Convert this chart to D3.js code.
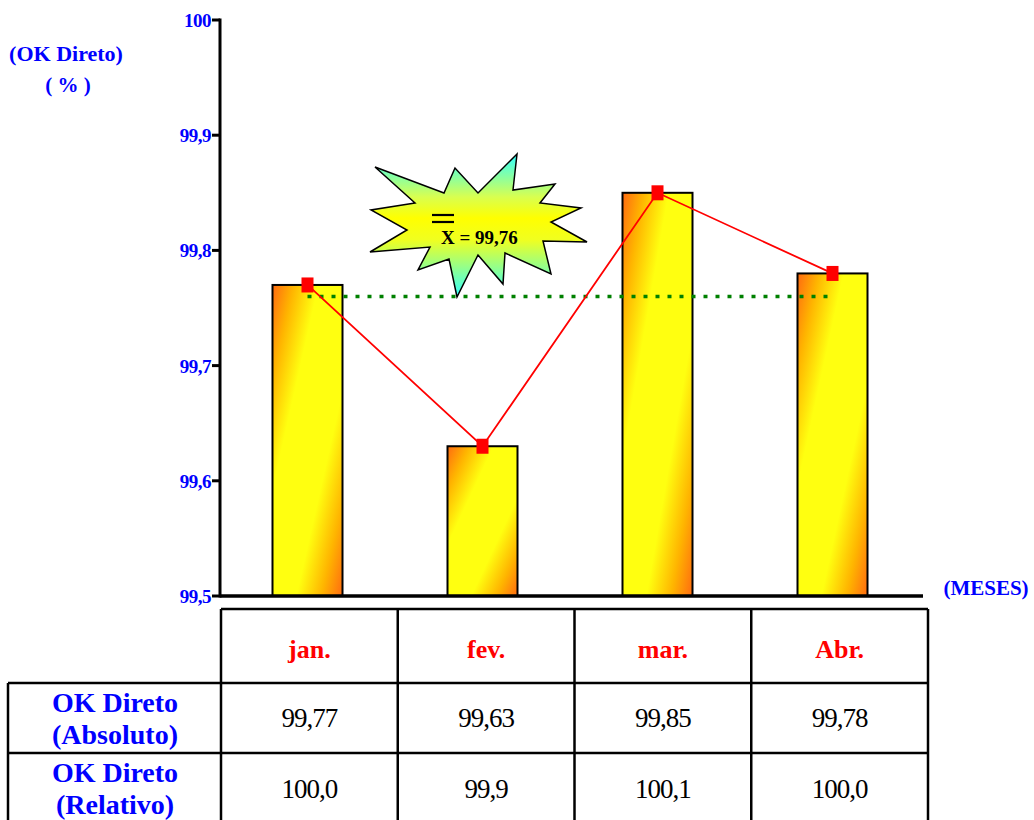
<!DOCTYPE html>
<html>
<head>
<meta charset="utf-8">
<script src="https://cdn.jsdelivr.net/npm/d3@7"></script>
<style>
  html, body { margin: 0; padding: 0; background: #fff; }
  svg { display: block; }
</style>
</head>
<body>
<svg id="chart" width="1034" height="820" font-family="'Liberation Serif', 'DejaVu Serif', serif"></svg>
<script>
// Monthly "OK Direto" indicator
const months = ["jan.", "fev.", "mar.", "Abr."];
const okAbsoluto = [99.77, 99.63, 99.85, 99.78];
const okRelativo = [100.0, 99.9, 100.1, 100.0];
const meanValue = 99.76;
const yTicks = [99.5, 99.6, 99.7, 99.8, 99.9, 100];
const yTickLabels = ["99,5", "99,6", "99,7", "99,8", "99,9", "100"];
const rowTitles = [["OK Direto", "(Absoluto)"], ["OK Direto", "(Relativo)"]];

const svg = d3.select("#chart");
const blue = "#0000ff";
const serif = "Liberation Serif";

const x = d3.scaleBand().domain(months).range([220, 920]).paddingInner(0.6).paddingOuter(0.3);
const y = d3.scaleLinear().domain([99.5, 100]).range([596, 20]);

// bar gradient: orange corners, yellow across the diagonal
const defs = svg.append("defs");
const bg = defs.append("linearGradient").attr("id", "barFill")
  .attr("x1", 0).attr("y1", 0).attr("x2", 1).attr("y2", 1);
[[0, "#ff6a10"], [0.15, "#ffb400"], [0.33, "#ffff10"], [0.67, "#ffff10"], [0.85, "#ffb400"], [1, "#ff6a10"]]
  .forEach(([o, c]) => bg.append("stop").attr("offset", o).attr("stop-color", c));

const sg = defs.append("linearGradient").attr("id", "burstFill")
  .attr("x1", 0).attr("y1", 0).attr("x2", 0).attr("y2", 1);
[[0, "#30ffff"], [0.3, "#d8ff50"], [0.45, "#ffff00"], [0.6, "#f0ff20"], [1, "#30ffff"]]
  .forEach(([o, c]) => sg.append("stop").attr("offset", o).attr("stop-color", c));

// bars
svg.append("g").selectAll("rect").data(okAbsoluto).join("rect")
  .attr("x", (d, i) => x(months[i]))
  .attr("y", d => y(d))
  .attr("width", x.bandwidth())
  .attr("height", d => y(99.5) - y(d))
  .attr("fill", "url(#barFill)")
  .attr("stroke", "#000").attr("stroke-width", 2);

// average line
const cx = m => x(m) + x.bandwidth() / 2;
svg.append("line")
  .attr("x1", cx(months[0])).attr("x2", cx(months[3]) - 4)
  .attr("y1", y(meanValue)).attr("y2", y(meanValue))
  .attr("stroke", "#008000").attr("stroke-width", 3.5)
  .attr("stroke-dasharray", "4,8");

// value line with square markers
svg.append("path").datum(okAbsoluto)
  .attr("d", d3.line().x((d, i) => cx(months[i])).y(d => y(d)))
  .attr("fill", "none").attr("stroke", "#ff0000").attr("stroke-width", 1.8);
svg.append("g").selectAll("rect").data(okAbsoluto).join("rect")
  .attr("x", (d, i) => cx(months[i]) - 6)
  .attr("y", d => y(d) - 7.5)
  .attr("width", 12).attr("height", 15)
  .attr("fill", "#ff0000");

// axes
svg.append("line").attr("x1", 220).attr("x2", 220).attr("y1", y(100) - 1.5).attr("y2", y(99.5) + 1.5)
  .attr("stroke", "#000").attr("stroke-width", 3);
svg.append("line").attr("x1", 220).attr("x2", 923).attr("y1", y(99.5)).attr("y2", y(99.5))
  .attr("stroke", "#000").attr("stroke-width", 3.5);
const tk = svg.append("g").selectAll("g").data(yTicks).join("g")
  .attr("transform", d => `translate(0,${y(d)})`);
tk.append("line").attr("x1", 212).attr("x2", 220).attr("stroke", "#000").attr("stroke-width", 3);
tk.append("text").text((d, i) => yTickLabels[i])
  .attr("x", 211).attr("y", 7).attr("text-anchor", "end").attr("font-family", serif)
  .attr("font-size", 19).attr("font-weight", "bold").attr("fill", blue)
  .attr("letter-spacing", -0.5);

// axis titles
const titleStyle = s => s.attr("font-family", serif).attr("font-weight", "bold").attr("fill", blue).attr("text-anchor", "middle");
svg.append("text").text("(OK Direto)").attr("x", 66).attr("y", 61).attr("font-size", 22).call(titleStyle);
svg.append("text").text("( % )").attr("x", 68).attr("y", 92).attr("font-size", 21).call(titleStyle);
svg.append("text").text("(MESES)").attr("x", 986).attr("y", 595).attr("font-size", 21).call(titleStyle);

// starburst callout for the average
const burst = [[375,167],[444,193],[455,168],[478,193],[517,154],[513,190],[555,184],[540,203],
  [581,208],[551,222],[587,242],[543,241],[551,274],[505,253],[503,284],[478,255],[457,297],
  [449,259],[418,270],[430,247],[370,252],[407,230],[371,210],[415,203]];
svg.append("polygon").attr("points", burst.map(p => p.join(",")).join(" "))
  .attr("fill", "url(#burstFill)").attr("stroke", "#000").attr("stroke-width", 1.5)
  .attr("stroke-linejoin", "miter");
// double bar of the mean symbol over the X
[215, 222].forEach(yy => svg.append("line")
  .attr("x1", 432).attr("x2", 454).attr("y1", yy).attr("y2", yy)
  .attr("stroke", "#000").attr("stroke-width", 2.2));
svg.append("text").text("X = " + d3.format(".2f")(meanValue).replace(".", ","))
  .attr("x", 441).attr("y", 244).attr("font-family", serif)
  .attr("font-size", 19).attr("font-weight", "bold").attr("fill", "#000");

// data table
const tx = d3.scaleBand().domain(months).range([221, 928]);
const rows = [683, 753, 823];
const tbl = svg.append("g").attr("stroke", "#000").attr("stroke-width", 2.5).attr("fill", "none");
tbl.append("line").attr("x1", 221).attr("x2", 928).attr("y1", 609).attr("y2", 609);
rows.slice(0, 2).forEach(r => tbl.append("line").attr("x1", 8).attr("x2", 928).attr("y1", r).attr("y2", r));
tbl.append("line").attr("x1", 8).attr("x2", 8).attr("y1", 683).attr("y2", 823);
months.concat([null]).forEach((m, i) => {
  const xx = m === null ? 928 : tx(m);
  tbl.append("line").attr("x1", xx).attr("x2", xx).attr("y1", 609).attr("y2", 823);
});

svg.append("g").selectAll("text").data(months).join("text")
  .text(d => d).attr("x", d => tx(d) + tx.bandwidth() / 2).attr("y", 658).attr("font-family", serif)
  .attr("text-anchor", "middle").attr("font-size", 26).attr("font-weight", "bold").attr("fill", "#ff0000");

const fmt2 = v => d3.format(".2f")(v).replace(".", ",");
const fmt1 = v => d3.format(".1f")(v).replace(".", ",");
svg.append("g").selectAll("text").data(okAbsoluto).join("text")
  .text(d => fmt2(d)).attr("x", (d, i) => tx(months[i]) + tx.bandwidth() / 2).attr("y", 727).attr("font-family", serif)
  .attr("text-anchor", "middle").attr("font-size", 27).attr("letter-spacing", -1).attr("fill", "#000");
svg.append("g").selectAll("text").data(okRelativo).join("text")
  .text(d => fmt1(d)).attr("x", (d, i) => tx(months[i]) + tx.bandwidth() / 2).attr("y", 798).attr("font-family", serif)
  .attr("text-anchor", "middle").attr("font-size", 27).attr("letter-spacing", -1).attr("fill", "#000");

rowTitles.forEach((lines, r) => {
  const t = svg.append("text").attr("text-anchor", "middle").attr("font-size", 28).attr("font-family", serif)
    .attr("font-weight", "bold").attr("fill", blue);
  t.append("tspan").text(lines[0]).attr("x", 115).attr("y", rows[r] + 29);
  t.append("tspan").text(lines[1]).attr("x", 115).attr("y", rows[r] + 61);
});
</script>
</body>
</html>
